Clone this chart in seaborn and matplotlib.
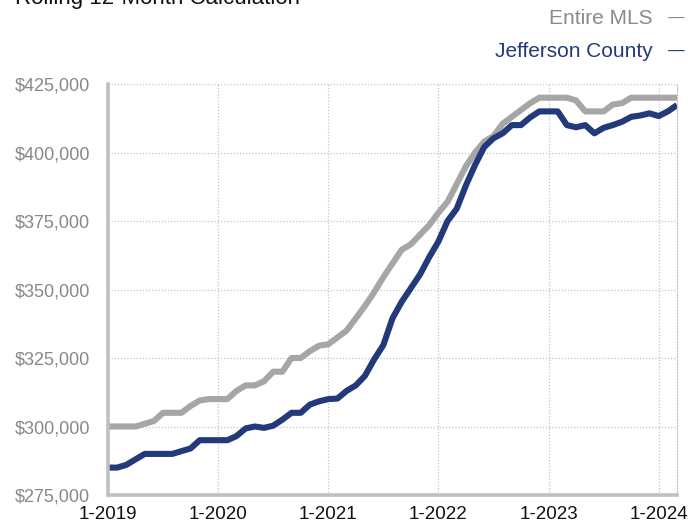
import matplotlib
matplotlib.use("Agg")
import matplotlib.pyplot as plt
import numpy as np
import pandas as pd
import seaborn as sns

# Rolling 12-month median values, monthly from Jan 2019 to Mar 2024
months = pd.period_range("2019-01", "2024-03", freq="M")

entire_mls = [
    300000, 300000, 300000, 300000, 301000, 302000, 305000, 305000, 305000, 307500,
    309500, 310000, 310000, 310000, 313000, 315000, 315000, 316500, 320000, 320000,
    325000, 325000, 327500, 329500, 330000, 332500, 335000, 339500, 344000, 349000,
    354500, 359500, 364500, 366500, 370000, 373500, 378000, 382000, 388500, 395000,
    400000, 404000, 406000, 410500, 413000, 415500, 418000, 420000, 420000, 420000,
    420000, 419000, 415000, 415000, 415000, 417500, 418000, 420000, 420000, 420000,
    420000, 420000, 420000,
]

jefferson_county = [
    285000, 285000, 286000, 288000, 290000, 290000, 290000, 290000, 291000, 292000,
    295000, 295000, 295000, 295000, 296500, 299300, 300000, 299500, 300300, 302500,
    305000, 305000, 308000, 309200, 310000, 310200, 313000, 315000, 318500, 324500,
    329700, 339500, 345500, 350500, 355500, 361800, 367500, 375000, 379500, 388000,
    395500, 402000, 405200, 407000, 410000, 410000, 412800, 415000, 415000, 415000,
    410000, 409200, 410000, 407000, 409000, 410000, 411200, 413000, 413500, 414300,
    413300, 415000, 417300,
]

series_names = ["Entire MLS", "Jefferson County"]
series_colors = ["#a6a6a6", "#233a7a"]
legend_text_colors = ["#8a8a8a", "#233a7a"]

year_tick_labels = ["1-2019", "1-2020", "1-2021", "1-2022", "1-2023", "1-2024"]
y_ticks = [275000, 300000, 325000, 350000, 375000, 400000, 425000]

month_idx = np.arange(len(months))
df = pd.concat([
    pd.DataFrame({"month": month_idx, "price": entire_mls, "area": series_names[0]}),
    pd.DataFrame({"month": month_idx, "price": jefferson_county, "area": series_names[1]}),
])

sns.set_style("white")
plt.rcParams["font.family"] = ["Liberation Sans", "DejaVu Sans"]

fig = plt.figure(figsize=(6.96, 5.25), dpi=100)
ax = fig.add_axes([108 / 696, 1 - 495 / 525, (677 - 108) / 696, (495 - 84) / 525])

sns.lineplot(
    data=df, x="month", y="price", hue="area",
    palette=dict(zip(series_names, series_colors)),
    linewidth=4.4, legend=False, ax=ax,
)
for line in ax.get_lines():
    line.set_solid_joinstyle("round")
    line.set_solid_capstyle("butt")

ax.set_xlim(0, len(months) - 1)
ax.set_ylim(275000, 425000)
ax.set_xticks(np.arange(0, len(months), 12))
ax.set_xticklabels(year_tick_labels)
ax.set_yticks(y_ticks)
ax.set_yticklabels([f"${v:,.0f}" for v in y_ticks])
ax.set_xlabel("")
ax.set_ylabel("")

ax.grid(True, color="#c4c4c4", linestyle=(0, (1, 1.5)), linewidth=0.9)
ax.set_axisbelow(True)

for side in ["left", "bottom"]:
    ax.spines[side].set_color("#c0c0c0")
    ax.spines[side].set_linewidth(2.6)
ax.spines["top"].set_visible(False)
ax.spines["right"].set_color("#c4c4c4")
ax.spines["right"].set_linestyle((0, (1, 1.5)))
ax.spines["right"].set_linewidth(0.9)

ax.tick_params(axis="x", colors="#c0c0c0", length=4, width=2.6, direction="out",
               labelcolor="#111111", labelsize=13.5, pad=4)
ax.tick_params(axis="y", length=0, labelcolor="#888888", labelsize=13, pad=13)

# Title, partly above the canvas edge
fig.text(15 / 696, 1 - 4 / 525, "Rolling 12-Month Calculation", fontsize=16,
         color="#111111", va="baseline", ha="left")

# Legend entries as right-aligned text with a dash marker
for i, (name, tcol) in enumerate(zip(series_names, legend_text_colors)):
    ypix = 18 + 33 * i
    fig.text(653 / 696, 1 - ypix / 525, name, fontsize=15, color=tcol,
             ha="right", va="center")
    fig.text(668 / 696, 1 - ypix / 525, "\u2014", fontsize=12, color=tcol,
             ha="left", va="center")

fig.savefig("out.png", dpi=100)
